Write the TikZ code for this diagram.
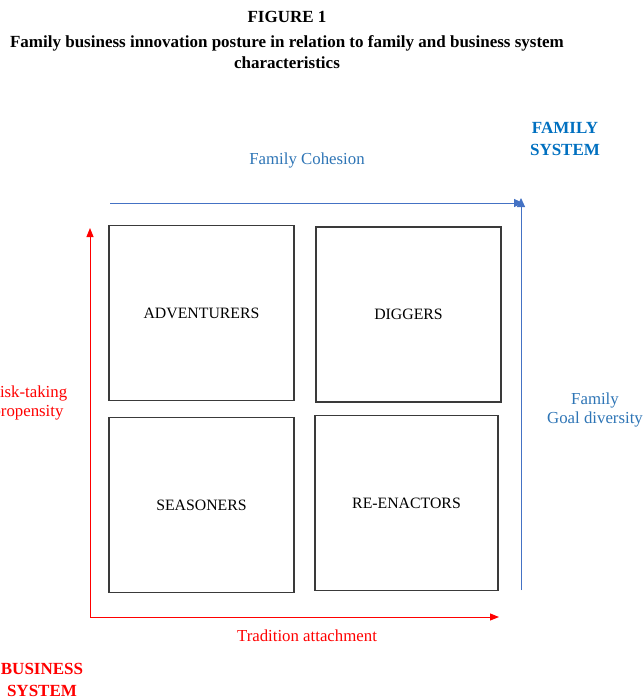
\documentclass[tikz,border=0pt]{standalone}
\usepackage{fontspec}
\setmainfont{Liberation Serif}
\usetikzlibrary{arrows.meta}
\definecolor{famblue}{HTML}{2E75B6}
\definecolor{famhead}{HTML}{0070C0}
\definecolor{axisblue}{HTML}{4472C4}
\definecolor{busred}{HTML}{FF0000}
\definecolor{boxgray}{HTML}{3A3A3A}
\begin{document}
\begin{tikzpicture}[x=1pt,y=-1pt,
  quad/.style={draw=boxgray,line width=1.1pt,minimum width=185pt,minimum height=175pt,font=\fontsize{15.8}{19}\selectfont},
  lbl/.style={font=\fontsize{16.8}{19.5}\selectfont,align=center},
  head/.style={font=\bfseries\fontsize{17}{21.5}\selectfont,align=center},
  blueaxis/.style={draw=axisblue,line width=1pt,-{Triangle[length=9pt,width=8pt]}},
  redaxis/.style={draw=busred,line width=1pt,-{Triangle[length=9pt,width=7pt]}}]
\useasboundingbox (0,0) rectangle (642,698);
\fill[white] (0,0) rectangle (642,698);

% title
\node[head] (fig) at (287,17) {FIGURE 1};
\node[head] (title) at (287,52) {Family business innovation posture in relation to family and business system\\characteristics};

% four quadrants
\node[quad] (adv) at (201.5,313) {ADVENTURERS};
\node[quad] (dig) at (408.5,314.5) {DIGGERS};
\node[quad] (sea) at (201.5,505) {SEASONERS};
\node[quad,minimum width=183pt] (ree) at (406.5,503) {RE-ENACTORS};

% family system axes
\coordinate (fhS) at (110,203);
\coordinate (fhE) at (523,203);
\coordinate (fvS) at (521,590);
\coordinate (fvE) at (521,198);
\draw[blueaxis] (fhS) -- (fhE);
\draw[blueaxis] (fvS) -- (fvE);

% business system axes
\coordinate (bO) at (90,617);
\coordinate (bvE) at (90,228);
\coordinate (bhE) at (499,617);
\draw[redaxis] (bO) -- (bvE);
\draw[redaxis] (bO) -- (bhE);

% axis labels
\node[lbl,text=famblue] (coh) at (307,160) {Family Cohesion};
\node[lbl,text=famblue] (goal) at (595,410) {Family\\Goal diversity};
\node[head,text=famhead] (fsys) at (565,139) {FAMILY\\SYSTEM};
\node[lbl,text=busred] (risk) at (28,403) {Risk-taking\\propensity};
\node[lbl,text=busred] (trad) at (307,636) {Tradition attachment};
\node[head,text=busred] (bsys) at (42,680) {BUSINESS\\SYSTEM};
\end{tikzpicture}
\end{document}
